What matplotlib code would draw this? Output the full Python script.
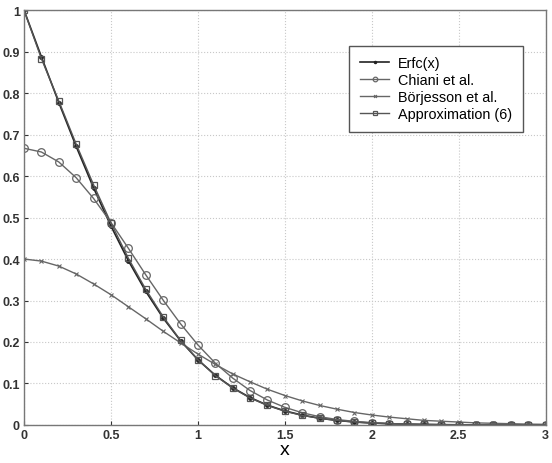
import matplotlib
matplotlib.use("Agg")
import matplotlib.pyplot as plt

plt.rcParams['font.family'] = ['Liberation Sans', 'DejaVu Sans']

x_vals = [round(0.1 * i, 1) for i in range(31)]

erfc_vals = [1.0, 0.8875, 0.7773, 0.6714, 0.5716, 0.4795, 0.3961, 0.3222, 0.2579, 0.2031,
             0.1573, 0.1198, 0.0897, 0.0660, 0.0477, 0.0339, 0.0237, 0.0162, 0.0109, 0.0072,
             0.0047, 0.0030, 0.0019, 0.0011, 0.0007, 0.0004, 0.0002, 0.0001, 0.0001, 0.0, 0.0]

chiani_vals = [0.667, 0.658, 0.634, 0.596, 0.546, 0.488, 0.426, 0.362, 0.301, 0.244,
               0.193, 0.149, 0.113, 0.083, 0.060, 0.0425, 0.0294, 0.0199, 0.0131, 0.0086,
               0.0055, 0.0035, 0.0022, 0.0013, 0.0008, 0.0005, 0.0003, 0.0002, 0.0001, 0.0001, 0.0]

borjesson_vals = [0.400, 0.395, 0.383, 0.364, 0.340, 0.314, 0.285, 0.256, 0.226, 0.198,
                  0.171, 0.146, 0.123, 0.104, 0.086, 0.071, 0.058, 0.047, 0.038, 0.030,
                  0.024, 0.019, 0.015, 0.011, 0.009, 0.007, 0.005, 0.004, 0.003, 0.002, 0.0015]

approx_vals = [1.0, 0.883, 0.781, 0.677, 0.579, 0.487, 0.402, 0.327, 0.261, 0.204,
               0.157, 0.119, 0.089, 0.065, 0.047, 0.033, 0.023, 0.016, 0.011, 0.007,
               0.0046, 0.0029, 0.0018, 0.0011, 0.0007, 0.0004, 0.0002, 0.0001, 0.0001, 0.0, 0.0]

labels = ['Erfc(x)', 'Chiani et al.', 'B\u00f6rjesson et al.', 'Approximation (6)']
x_ticks = [0, 0.5, 1, 1.5, 2, 2.5, 3]
x_tick_labels = ['0', '0.5', '1', '1.5', '2', '2.5', '3']
y_ticks = [0, 0.1, 0.2, 0.3, 0.4, 0.5, 0.6, 0.7, 0.8, 0.9, 1]
y_tick_labels = ['0', '0.1', '0.2', '0.3', '0.4', '0.5', '0.6', '0.7', '0.8', '0.9', '1']

fig = plt.figure(figsize=(5.52, 4.64), dpi=100)
ax = fig.add_axes([0.0435, 0.082, 0.945, 0.894])

ax.plot(x_vals, erfc_vals, color='#222222', lw=1.2, marker='.', ms=5, label=labels[0])
ax.plot(x_vals, chiani_vals, color='#666666', lw=1.0, marker='o', ms=5.5, mfc='none',
        mec='#666666', mew=0.9, label=labels[1])
ax.plot(x_vals, borjesson_vals, color='#666666', lw=1.0, marker='x', ms=3.5, mew=0.8,
        label=labels[2])
ax.plot(x_vals, approx_vals, color='#555555', lw=1.0, marker='s', ms=5, mfc='none',
        mec='#555555', mew=0.9, label=labels[3])

ax.set_xlim(0, 3)
ax.set_ylim(0, 1)
ax.set_xticks(x_ticks)
ax.set_xticklabels(x_tick_labels)
ax.set_yticks(y_ticks)
ax.set_yticklabels(y_tick_labels)
ax.tick_params(labelsize=9, length=3, direction='in', colors='#333333', pad=3)
for lab in ax.get_xticklabels() + ax.get_yticklabels():
    lab.set_fontweight('bold')
ax.grid(True, linestyle=':', color='#c8c8c8', lw=0.8)
for s in ax.spines.values():
    s.set_color('#777777')
    s.set_linewidth(1.0)
ax.set_xlabel('x', fontsize=14, labelpad=0)

leg = ax.legend(loc='upper left', bbox_to_anchor=(0.61, 0.932), fontsize=10.4,
                frameon=True, fancybox=False, edgecolor='#555555', framealpha=1,
                handlelength=2.0, borderpad=0.75, labelspacing=0.2, handletextpad=0.6,
                markerscale=0.6)
leg.get_frame().set_linewidth(1.0)

fig.savefig('out.png', dpi=100)
